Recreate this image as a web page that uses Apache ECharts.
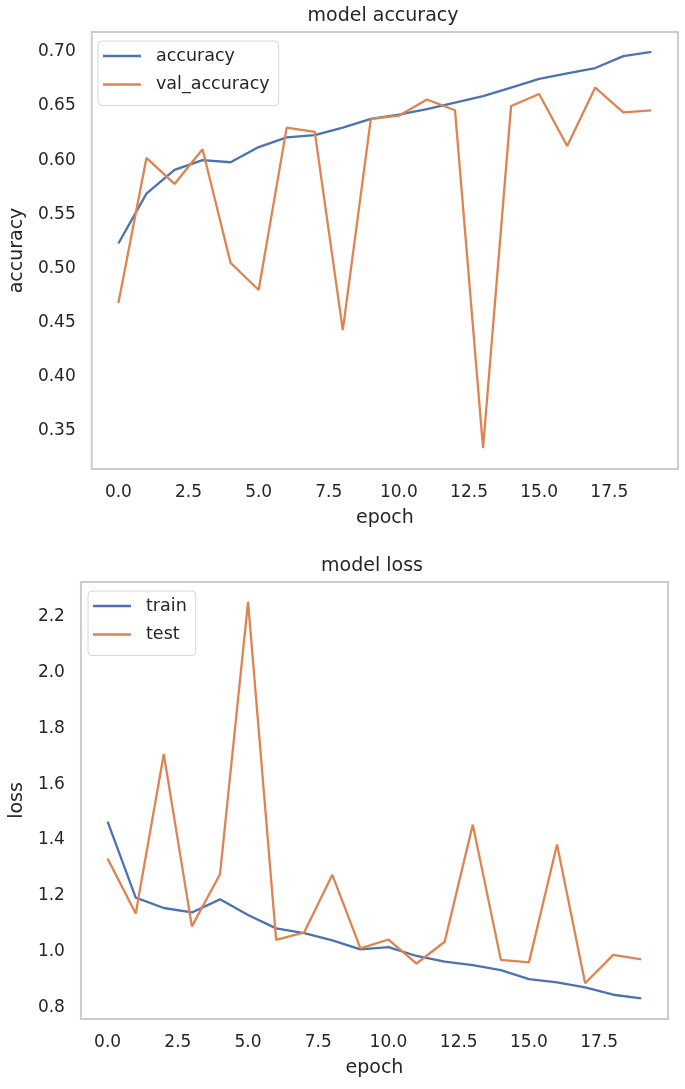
<!DOCTYPE html>
<html>
<head>
<meta charset="utf-8">
<script src="https://cdn.jsdelivr.net/npm/echarts@6/dist/echarts.min.js"></script>
<style>
html,body{margin:0;padding:0;background:#ffffff;}
#chart{width:685px;height:1089px;}
</style>
</head>
<body>
<div id="chart"></div>
<script>
const epochs = [0,1,2,3,4,5,6,7,8,9,10,11,12,13,14,15,16,17,18,19];
const accuracy = [0.523,0.569,0.591,0.600,0.598,0.612,0.621,0.623,0.630,0.638,0.642,0.647,0.653,0.659,0.667,0.675,0.680,0.685,0.696,0.700];
const valAccuracy = [0.468,0.602,0.578,0.610,0.505,0.480,0.630,0.626,0.443,0.638,0.641,0.656,0.646,0.334,0.650,0.661,0.613,0.667,0.644,0.646];
const trainLoss = [1.466,1.193,1.156,1.140,1.187,1.131,1.083,1.066,1.040,1.008,1.016,0.984,0.964,0.951,0.933,0.901,0.889,0.871,0.845,0.832];
const testLoss = [1.333,1.136,1.708,1.090,1.277,2.254,1.042,1.069,1.275,1.011,1.043,0.957,1.035,1.455,0.970,0.961,1.384,0.886,0.988,0.972];
const xTicks = [0,2.5,5,7.5,10,12.5,15,17.5];
const accTicks = [0.35,0.40,0.45,0.50,0.55,0.60,0.65,0.70];
const lossTicks = [0.8,1.0,1.2,1.4,1.6,1.8,2.0,2.2];

const FONT = 'DejaVu Sans';
const TXT = '#262626';
const BLUE = '#4c72b0';
const ORANGE = '#dd8452';

function pairs(ys){ return epochs.map((e,i)=>[e, ys[i]]); }

function xAxis(idx){
  return {
    type:'value', gridIndex:idx, min:-0.95, max:19.95,
    axisLine:{show:false}, axisTick:{show:false}, splitLine:{show:false},
    axisLabel:{customValues:xTicks, formatter:v=>v.toFixed(1), margin:15, color:TXT, fontSize:17, fontFamily:FONT},
    name:'epoch', nameLocation:'middle', nameGap:40,
    nameTextStyle:{color:TXT, fontSize:19, fontFamily:FONT}
  };
}
function yAxis(idx, min, max, ticks, dec, name, gap){
  return {
    type:'value', gridIndex:idx, min:min, max:max,
    axisLine:{show:false}, axisTick:{show:false}, splitLine:{show:false},
    axisLabel:{customValues:ticks, formatter:v=>v.toFixed(dec), margin:16, color:TXT, fontSize:17, fontFamily:FONT},
    name:name, nameLocation:'middle', nameGap:gap, nameRotate:90,
    nameTextStyle:{color:TXT, fontSize:19, fontFamily:FONT}
  };
}
function legend(names, left, top){
  return {
    data:names, orient:'vertical', left:left, top:top,
    icon:'rect', itemWidth:38, itemHeight:2.5, itemGap:10.5,
    padding:[6,9,12,5],
    backgroundColor:'#ffffff', borderColor:'#d6d6d6', borderWidth:1, borderRadius:4,
    textStyle:{color:TXT, fontSize:17.5, fontFamily:FONT, padding:[0,0,0,10]}
  };
}
function line(name, data, color, x, y){
  return {
    type:'line', name:name, data:pairs(data), xAxisIndex:x, yAxisIndex:y,
    symbol:'none', showSymbol:false, color:color,
    lineStyle:{color:color, width:2.3}, itemStyle:{color:color}
  };
}

const chart = echarts.init(document.getElementById('chart'), null, {renderer:'canvas'});
chart.setOption({
  animation:false,
  backgroundColor:'#ffffff',
  title:[
    {text:'model accuracy', left:378, top:2, textAlign:'center', textStyle:{color:TXT, fontSize:19, fontWeight:'normal', fontFamily:FONT}},
    {text:'model loss', left:367, top:552, textAlign:'center', textStyle:{color:TXT, fontSize:19, fontWeight:'normal', fontFamily:FONT}}
  ],
  grid:[
    {left:88, top:32, right:7, height:437, show:true, borderColor:'#cccccc', borderWidth:2, backgroundColor:'#ffffff'},
    {left:77, top:582, right:17, height:437, show:true, borderColor:'#cccccc', borderWidth:2, backgroundColor:'#ffffff'}
  ],
  legend:[
    legend(['accuracy','val_accuracy'], 98, 41),
    legend(['train','test'], 88, 591)
  ],
  xAxis:[xAxis(0), xAxis(1)],
  yAxis:[
    yAxis(0, 0.3147, 0.7183, accTicks, 2, 'accuracy', 62),
    yAxis(1, 0.758, 2.325, lossTicks, 1, 'loss', 50)
  ],
  series:[
    line('accuracy', accuracy, BLUE, 0, 0),
    line('val_accuracy', valAccuracy, ORANGE, 0, 0),
    line('train', trainLoss, BLUE, 1, 1),
    line('test', testLoss, ORANGE, 1, 1)
  ]
});
</script>
</body>
</html>
